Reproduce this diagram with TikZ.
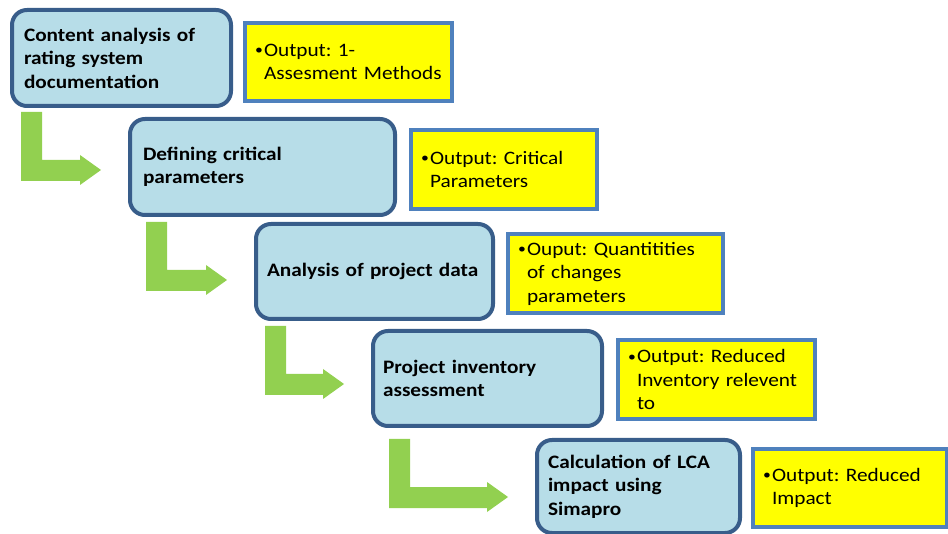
\documentclass[tikz,border=0pt]{standalone}
\usepackage{fontspec}
\setmainfont[FakeStretch=1.12]{Carlito}
\usepackage{tikz}
\usetikzlibrary{calc}
\definecolor{stageline}{HTML}{385D8A}
\definecolor{stagefill}{HTML}{B7DDE8}
\definecolor{outline}{HTML}{4F81BD}
\definecolor{outfill}{HTML}{FFFF00}
\definecolor{stepgreen}{HTML}{92D050}
\frenchspacing
\newcommand{\diagfont}{\fontsize{19pt}{23.5pt}\selectfont}
\newcommand{\outbullet}{\makebox[9pt][l]{\fontsize{14pt}{14pt}\selectfont\raisebox{1.5pt}{\textbullet}}}
\newcommand{\outindent}{\hspace*{9pt}}
\newcommand{\steparrow}[3]{%
	\fill[stepgreen] let \p1=($(#1.south west)+#3$), \p2=($(#2.west)+(-27,0)$) in
		(\x1,\y1) -- (\x1+21pt,\y1) -- (\x1+21pt,\y1-48pt) -- (\x2-21pt,\y1-48pt)
		-- (\x2-21pt,\y1-43pt) -- (\x2,\y1-58pt) -- (\x2-21pt,\y1-73pt)
		-- (\x2-21pt,\y1-69pt) -- (\x1,\y1-69pt) -- cycle;}
\tikzset{
	stage node/.style={draw=stageline,fill=stagefill,line width=4pt,rounded corners=15pt,
		inner sep=0pt,align=left,font=\diagfont\bfseries},
	output node/.style={draw=outline,fill=outfill,line width=4pt,inner sep=0pt,
		align=left,font=\diagfont}
}
\begin{document}
\begin{tikzpicture}[x=1pt,y=-1pt]
	\useasboundingbox (0,0) rectangle (948,534);
	\node [stage node,minimum width=219pt,minimum height=96pt,text width=195pt] (b1) at (121.5,58)
		{Content analysis of\\rating system\\documentation};
	\node [stage node,minimum width=265pt,minimum height=96pt,text width=239pt] (b2) at (262.5,167)
		{Defining critical\\parameters};
	\node [stage node,minimum width=237pt,minimum height=95pt,text width=215pt] (b3) at (374.5,271.5)
		{Analysis of project data};
	\node [stage node,minimum width=229pt,minimum height=95pt,text width=209pt] (b4) at (487.5,378.5)
		{Project inventory\\assessment};
	\node [stage node,minimum width=203pt,minimum height=93pt,text width=181pt] (b5) at (638.5,486.5)
		{Calculation of LCA\\impact using\\Simapro};
	\node [output node,minimum width=207pt,minimum height=78pt,text width=187pt] (o1) at (348.5,62)
		{\outbullet Output: 1-\\\outindent Assesment Methods};
	\node [output node,minimum width=186pt,minimum height=79pt,text width=166pt] (o2) at (504,169.5)
		{\outbullet Output: Critical\\\outindent Parameters};
	\node [output node,minimum width=215pt,minimum height=79pt,text width=195pt] (o3) at (615.5,273.5)
		{\outbullet Ouput: Quantitities\\\outindent of changes\\\outindent parameters};
	\node [output node,minimum width=197pt,minimum height=79pt,text width=177pt] (o4) at (716.5,379.5)
		{\outbullet Output: Reduced\\\outindent Inventory relevent\\\outindent to};
	\node [output node,minimum width=194pt,minimum height=78pt,text width=174pt] (o5) at (850,488)
		{\outbullet Output: Reduced\\\outindent Impact};
	\steparrow{b1}{b2}{(11,4)}
	\steparrow{b2}{b3}{(18,5)}
	\steparrow{b3}{b4}{(11,5)}
	\steparrow{b4}{b5}{(18,11)}
\end{tikzpicture}
\end{document}
